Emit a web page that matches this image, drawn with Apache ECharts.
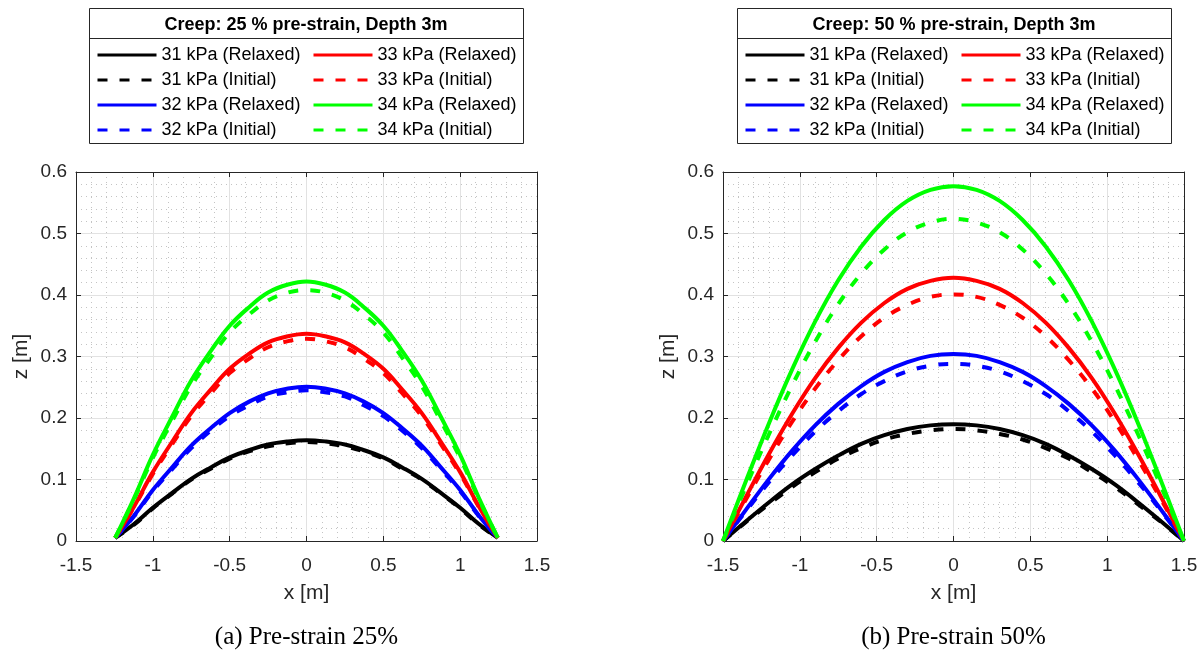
<!DOCTYPE html>
<html><head><meta charset="utf-8">
<script src="https://cdn.jsdelivr.net/npm/echarts@6/dist/echarts.min.js"></script>
<style>html,body{margin:0;padding:0;background:#fff}#c{width:1201px;height:657px}</style>
</head><body><div id="c"></div>
<script>
// ---------- data ----------
const legendTitles = ['Creep: 25 % pre-strain, Depth 3m', 'Creep: 50 % pre-strain, Depth 3m'];
const captions = ['(a) Pre-strain 25%', '(b) Pre-strain 50%'];
const seriesNames = ['31 kPa (Relaxed)', '31 kPa (Initial)', '32 kPa (Relaxed)', '32 kPa (Initial)',
                     '33 kPa (Relaxed)', '33 kPa (Initial)', '34 kPa (Relaxed)', '34 kPa (Initial)'];
const seriesColors = ['#000000', '#000000', '#0000ff', '#0000ff', '#ff0000', '#ff0000', '#00ff00', '#00ff00'];
const seriesDashed = [false, true, false, true, false, true, false, true];
const xAxisName = 'x [m]';
const yAxisName = 'z [m]';

// (a) 25 % pre-strain
const xLeft = [-1.245, -1.12, -1.0, -0.87, -0.75, -0.62, -0.5, -0.37, -0.25, -0.12, 0,
               0.12, 0.25, 0.37, 0.5, 0.62, 0.75, 0.87, 1.0, 1.12, 1.245];
const zLeft31R = [0.005, 0.028, 0.054, 0.079, 0.101, 0.120, 0.136, 0.148, 0.157, 0.162, 0.164,
                  0.162, 0.157, 0.148, 0.136, 0.120, 0.101, 0.079, 0.054, 0.028, 0.005];
const zLeft31I = [0.005, 0.027, 0.053, 0.078, 0.100, 0.118, 0.134, 0.146, 0.154, 0.159, 0.161,
                  0.159, 0.154, 0.146, 0.134, 0.118, 0.100, 0.078, 0.053, 0.027, 0.005];
const zLeft32R = [0.005, 0.042, 0.083, 0.121, 0.155, 0.184, 0.208, 0.227, 0.240, 0.248, 0.251,
                  0.248, 0.240, 0.227, 0.208, 0.184, 0.155, 0.121, 0.083, 0.042, 0.005];
const zLeft32I = [0.005, 0.041, 0.081, 0.118, 0.151, 0.180, 0.203, 0.221, 0.235, 0.242, 0.245,
                  0.242, 0.235, 0.221, 0.203, 0.180, 0.151, 0.118, 0.081, 0.041, 0.005];
const zLeft33R = [0.005, 0.057, 0.112, 0.163, 0.208, 0.247, 0.280, 0.305, 0.323, 0.333, 0.337,
                  0.333, 0.323, 0.305, 0.280, 0.247, 0.208, 0.163, 0.112, 0.057, 0.005];
const zLeft33I = [0.005, 0.056, 0.109, 0.159, 0.203, 0.241, 0.273, 0.297, 0.315, 0.325, 0.329,
                  0.325, 0.315, 0.297, 0.273, 0.241, 0.203, 0.159, 0.109, 0.056, 0.005];
const zLeft34R = [0.005, 0.071, 0.140, 0.204, 0.261, 0.310, 0.350, 0.381, 0.404, 0.417, 0.422,
                  0.417, 0.404, 0.381, 0.350, 0.310, 0.261, 0.204, 0.140, 0.071, 0.005];
const zLeft34I = [0.005, 0.069, 0.135, 0.197, 0.252, 0.299, 0.339, 0.369, 0.391, 0.404, 0.408,
                  0.404, 0.391, 0.369, 0.339, 0.299, 0.252, 0.197, 0.135, 0.069, 0.005];

// (b) 50 % pre-strain
const xRight = [-1.5, -1.35, -1.2, -1.05, -0.9, -0.75, -0.6, -0.45, -0.3, -0.15, 0,
                0.15, 0.3, 0.45, 0.6, 0.75, 0.9, 1.05, 1.2, 1.35, 1.5];
const zRight31R = [0, 0.032, 0.063, 0.092, 0.117, 0.139, 0.158, 0.172, 0.182, 0.188, 0.190,
                   0.188, 0.182, 0.172, 0.158, 0.139, 0.117, 0.092, 0.063, 0.032, 0];
const zRight31I = [0, 0.031, 0.060, 0.088, 0.112, 0.134, 0.151, 0.165, 0.174, 0.180, 0.182,
                   0.180, 0.174, 0.165, 0.151, 0.134, 0.112, 0.088, 0.060, 0.031, 0];
const zRight32R = [0, 0.051, 0.101, 0.147, 0.188, 0.223, 0.252, 0.275, 0.291, 0.301, 0.304,
                   0.301, 0.291, 0.275, 0.252, 0.223, 0.188, 0.147, 0.101, 0.051, 0];
const zRight32I = [0, 0.049, 0.096, 0.139, 0.178, 0.211, 0.239, 0.260, 0.276, 0.285, 0.288,
                   0.285, 0.276, 0.260, 0.239, 0.211, 0.178, 0.139, 0.096, 0.049, 0];
const zRight33R = [0, 0.072, 0.142, 0.207, 0.265, 0.314, 0.355, 0.387, 0.410, 0.423, 0.428,
                   0.423, 0.410, 0.387, 0.355, 0.314, 0.265, 0.207, 0.142, 0.072, 0];
const zRight33I = [0, 0.068, 0.133, 0.194, 0.248, 0.294, 0.333, 0.363, 0.384, 0.397, 0.401,
                   0.397, 0.384, 0.363, 0.333, 0.294, 0.248, 0.194, 0.133, 0.068, 0];
const zRight34R = [0, 0.098, 0.192, 0.279, 0.357, 0.424, 0.479, 0.522, 0.553, 0.571, 0.577,
                   0.571, 0.553, 0.522, 0.479, 0.424, 0.357, 0.279, 0.192, 0.098, 0];
const zRight34I = [0, 0.089, 0.174, 0.253, 0.324, 0.385, 0.435, 0.474, 0.502, 0.518, 0.524,
                   0.518, 0.502, 0.474, 0.435, 0.385, 0.324, 0.253, 0.174, 0.089, 0];

const panels = [
  { x: xLeft,  z: [zLeft31R, zLeft31I, zLeft32R, zLeft32I, zLeft33R, zLeft33I, zLeft34R, zLeft34I] },
  { x: xRight, z: [zRight31R, zRight31I, zRight32R, zRight32I, zRight33R, zRight33I, zRight34R, zRight34I] }
];

// ---------- layout ----------
const FONT = "'Liberation Sans', Arial, Helvetica, sans-serif";
const AX = '#262626';
const gridPos = [{ left: 76, top: 172, width: 461, height: 369 }, { left: 723, top: 172, width: 461, height: 369 }];
const boxPos = [{ x: 89, y: 8, w: 434, h: 135 }, { x: 737, y: 8, w: 434, h: 135 }];

const grids = [], xAxes = [], yAxes = [], series = [], legends = [], graphics = [];

function xAxisBase(gi, pos) {
  return {
    type: 'value', gridIndex: gi, position: pos, min: -1.5, max: 1.5, interval: 0.5,
    axisLine: { show: true, onZero: false, lineStyle: { color: AX, width: 1 } },
    axisTick: { show: true, inside: true, length: 5, lineStyle: { color: AX } },
    axisLabel: { show: pos === 'bottom', color: AX, fontSize: 19, fontFamily: FONT, margin: 15 },
    splitLine: { show: pos === 'bottom', lineStyle: { color: '#e2e2e2', width: 1 } },
    minorTick: { show: false, splitNumber: 5 },
    minorSplitLine: { show: pos === 'bottom', lineStyle: { color: '#c4c4c4', width: 1, type: [1, 4] } },
    name: pos === 'bottom' ? xAxisName : '', nameLocation: 'middle', nameGap: 42,
    nameTextStyle: { color: AX, fontSize: 21, fontFamily: FONT }
  };
}
function yAxisBase(gi, pos) {
  return {
    type: 'value', gridIndex: gi, position: pos, min: 0, max: 0.6, interval: 0.1,
    axisLine: { show: true, onZero: false, lineStyle: { color: AX, width: 1 } },
    axisTick: { show: true, inside: true, length: 5, lineStyle: { color: AX } },
    axisLabel: { show: pos === 'left', color: AX, fontSize: 19, fontFamily: FONT, margin: 9 },
    splitLine: { show: pos === 'left', lineStyle: { color: '#e2e2e2', width: 1 } },
    minorTick: { show: false, splitNumber: 5 },
    minorSplitLine: { show: pos === 'left', lineStyle: { color: '#c4c4c4', width: 1, type: [1, 4] } },
    name: pos === 'left' ? yAxisName : '', nameLocation: 'middle', nameGap: 44,
    nameTextStyle: { color: AX, fontSize: 21, fontFamily: FONT }
  };
}

panels.forEach((p, gi) => {
  grids.push(Object.assign({ containLabel: false }, gridPos[gi]));
  xAxes.push(xAxisBase(gi, 'bottom'));
  xAxes.push(xAxisBase(gi, 'top'));
  yAxes.push(yAxisBase(gi, 'left'));
  yAxes.push(yAxisBase(gi, 'right'));
  p.z.forEach((zs, si) => {
    series.push({
      name: seriesNames[si], type: 'line', xAxisIndex: gi * 2, yAxisIndex: gi * 2,
      data: p.x.map((x, k) => [x, zs[k]]),
      symbol: 'none', smooth: 0.4, animation: false,
      lineStyle: { color: seriesColors[si], width: 4, type: seriesDashed[si] ? [10, 12] : 'solid' },
      itemStyle: { color: seriesColors[si] },
      z: 3 + si
    });
  });
  const b = boxPos[gi];
  // two legend columns
  [[0, 1, 2, 3], [4, 5, 6, 7]].forEach((idxs, col) => {
    legends.push({
      orient: 'vertical', left: b.x + (col === 0 ? 7 : 223), top: 46,
      itemWidth: 59, itemHeight: 14, itemGap: 7,
      data: idxs.map(i => seriesNames[i]),
      textStyle: { fontSize: 18, fontFamily: FONT, color: '#000', lineHeight: 18, padding: [0, 0, 0, 0] },
      lineStyle: { width: 3 },
      itemStyle: { opacity: 0 },
      selectedMode: false, padding: 0
    });
  });
  graphics.push({
    type: 'rect', shape: { x: b.x + 0.5, y: b.y + 0.5, width: b.w, height: b.h },
    style: { fill: '#fff', stroke: AX, lineWidth: 1 }, z: -1
  });
  graphics.push({
    type: 'line', shape: { x1: b.x, y1: b.y + 30.5, x2: b.x + b.w, y2: b.y + 30.5 },
    style: { stroke: AX, lineWidth: 1 }, z: 0
  });
  graphics.push({
    type: 'text', x: b.x + b.w / 2, y: b.y + 17,
    style: { text: legendTitles[gi], font: "bold 18px " + FONT, fill: '#000', textAlign: 'center', textVerticalAlign: 'middle' }
  });
  graphics.push({
    type: 'text', x: gridPos[gi].left + gridPos[gi].width / 2, y: 637,
    style: { text: captions[gi], font: "25px 'Liberation Serif', 'Times New Roman', serif", fill: '#000', textAlign: 'center', textVerticalAlign: 'middle' }
  });
});

const chart = echarts.init(document.getElementById('c'), null, { renderer: 'canvas' });
chart.setOption({
  backgroundColor: '#fff', animation: false,
  grid: grids, xAxis: xAxes, yAxis: yAxes, series: series, legend: legends, graphic: graphics
});
</script></body></html>
